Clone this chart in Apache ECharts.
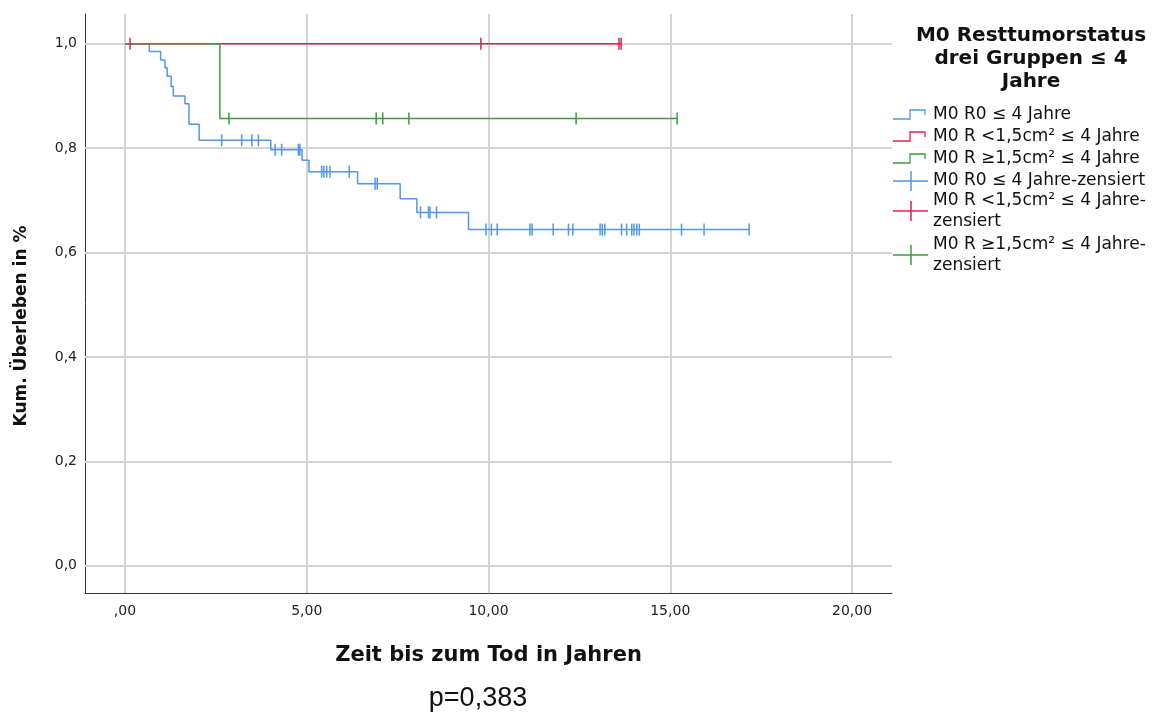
<!DOCTYPE html>
<html>
<head>
<meta charset="utf-8">
<script src="https://cdn.jsdelivr.net/npm/echarts@6/dist/echarts.min.js"></script>
<style>
  html, body { margin: 0; padding: 0; background: #fff; }
  #chart { width: 1175px; height: 713px; }
</style>
</head>
<body>
<div id="chart"></div>
<script>
// Kaplan-Meier estimates per group: event times and survival after each event
const r0Times = [0, 0.67, 0.98, 1.10, 1.16, 1.27, 1.33, 1.65, 1.76, 2.04, 4.01, 4.87, 5.06, 6.40, 7.57, 8.03, 9.45];
const r0Surv  = [1.0, 0.985, 0.969, 0.954, 0.938, 0.918, 0.900, 0.885, 0.846, 0.815, 0.797, 0.777, 0.755, 0.732, 0.703, 0.677, 0.644];
const r0Censored = [2.66, 3.21, 3.49, 3.67, 4.13, 4.31, 4.77, 4.81, 5.41, 5.47, 5.55, 5.64, 6.17, 6.88, 6.94,
                    8.13, 8.35, 8.39, 8.57, 9.93, 10.08, 10.24, 11.14, 11.20, 11.78, 12.20, 12.32, 13.07, 13.13,
                    13.20, 13.66, 13.80, 13.94, 14.00, 14.08, 14.15, 15.31, 15.93, 17.17];

const rSmallTimes = [0];
const rSmallSurv  = [1.0];
const rSmallCensored = [0.14, 9.79, 13.59, 13.65];

const rLargeTimes = [0, 2.61];
const rLargeSurv  = [1.0, 0.857];
const rLargeCensored = [2.86, 6.91, 7.09, 7.81, 12.41, 15.19];

const groupNames = ['M0 R0 \u2264 4 Jahre', 'M0 R <1,5cm\u00b2 \u2264 4 Jahre', 'M0 R \u22651,5cm\u00b2 \u2264 4 Jahre'];
const censorNames = ['M0 R0 \u2264 4 Jahre-zensiert', 'M0 R <1,5cm\u00b2 \u2264 4 Jahre-\nzensiert', 'M0 R \u22651,5cm\u00b2 \u2264 4 Jahre-\nzensiert'];
const legendTitle = 'M0 Resttumorstatus\ndrei Gruppen \u2264 4\nJahre';

const xTickValues = [0, 5, 10, 15, 20];
const xTickLabels = [',00', '5,00', '10,00', '15,00', '20,00'];
const yTickValues = [0, 0.2, 0.4, 0.6, 0.8, 1.0];
const yTickLabels = ['0,0', '0,2', '0,4', '0,6', '0,8', '1,0'];

const xAxisTitle = 'Zeit bis zum Tod in Jahren';
const yAxisTitle = 'Kum. \u00dcberleben in %';
const pValueText = 'p=0,383';

// ---- styling ----
const colors = ['#5297e8', '#e2214f', '#3e9a3e'];
const gridColor = '#d4d4d4';
const textFont = 'DejaVu Sans, Verdana, sans-serif';

// survival level in effect at time t (right-continuous step function)
function survivalAt(times, surv, t) {
  let s = surv[0];
  for (let i = 0; i < times.length; i++) {
    if (times[i] <= t) s = surv[i];
  }
  return s;
}

function curvePoints(times, surv, censored) {
  const pts = times.map((t, i) => [t, surv[i]]);
  const end = Math.max(times[times.length - 1], ...censored);
  pts.push([end, survivalAt(times, surv, end)]);
  return pts;
}

function censorPoints(times, surv, censored) {
  return censored.map(t => [t, survivalAt(times, surv, t)]);
}

const groups = [
  [r0Times, r0Surv, r0Censored],
  [rSmallTimes, rSmallSurv, rSmallCensored],
  [rLargeTimes, rLargeSurv, rLargeCensored]
];

const series = [];

// reference lines at each tick, drawn beneath the curves
series.push({
  type: 'line',
  data: [],
  silent: true,
  z: 1,
  markLine: {
    silent: true,
    z: 1,
    symbol: 'none',
    animation: false,
    label: { show: false },
    lineStyle: { color: gridColor, width: 2, type: 'solid' },
    data: xTickValues.map(v => ({ xAxis: v })).concat(yTickValues.map(v => ({ yAxis: v })))
  }
});

groups.forEach((g, i) => {
  series.push({
    name: groupNames[i],
    type: 'line',
    step: 'end',
    showSymbol: false,
    symbol: 'none',
    z: 10,
    lineStyle: { color: colors[i], width: 1.5 },
    itemStyle: { color: colors[i] },
    data: curvePoints(g[0], g[1], g[2])
  });
});

groups.forEach((g, i) => {
  series.push({
    name: censorNames[i],
    type: 'scatter',
    symbol: 'rect',
    symbolSize: [1.5, 12],
    z: 12,
    itemStyle: { color: colors[i], opacity: 1 },
    data: censorPoints(g[0], g[1], g[2])
  });
});

// legend drawn as graphic elements to the right of the plot
const legendX = 893;
const legendTextX = 933;
const rowCenters = [115, 137, 159, 181, 211, 255];
const graphics = [{
  type: 'text',
  x: 1031, y: 24,
  style: {
    text: legendTitle,
    font: 'bold 20px ' + textFont,
    fill: '#111',
    textAlign: 'center',
    lineHeight: 23
  }
}];

groupNames.forEach((name, i) => {
  const c = rowCenters[i];
  graphics.push({
    type: 'polyline',
    shape: { points: [[legendX, c + 4], [legendX + 17, c + 4], [legendX + 17, c - 5], [legendX + 32, c - 5], [legendX + 32, c]] },
    style: { stroke: colors[i], lineWidth: 1.3, fill: null }
  });
  graphics.push({
    type: 'text', x: legendTextX, y: c,
    style: { text: name, font: '17px ' + textFont, fill: '#111', textVerticalAlign: 'middle' }
  });
});

censorNames.forEach((name, i) => {
  const c = rowCenters[i + 3];
  graphics.push({
    type: 'polyline',
    shape: { points: [[legendX, c], [legendX + 35, c]] },
    style: { stroke: colors[i], lineWidth: 1.5, fill: null }
  });
  graphics.push({
    type: 'polyline',
    shape: { points: [[legendX + 18, c - 10], [legendX + 18, c + 10]] },
    style: { stroke: colors[i], lineWidth: 1.5, fill: null }
  });
  graphics.push({
    type: 'text', x: legendTextX, y: c,
    style: { text: name, font: '17px ' + textFont, fill: '#111', textVerticalAlign: 'middle', lineHeight: 21 }
  });
});

// rotated y-axis title, centred beside the plot
graphics.push({
  type: 'text',
  x: 22, y: 326,
  rotation: Math.PI / 2,
  style: {
    text: yAxisTitle,
    font: 'bold 17px ' + textFont,
    fill: '#111',
    textAlign: 'center',
    textVerticalAlign: 'middle'
  }
});

graphics.push({
  type: 'text',
  x: 478, y: 699,
  style: {
    text: pValueText,
    font: '27px "Liberation Sans", Arial, sans-serif',
    fill: '#111',
    textAlign: 'center',
    textVerticalAlign: 'middle'
  }
});

const chart = echarts.init(document.getElementById('chart'), null, { renderer: 'canvas' });
chart.setOption({
  animation: false,
  backgroundColor: '#fff',
  grid: { left: 85, right: 283, top: 14, bottom: 120 },
  xAxis: {
    type: 'value',
    min: -1.10,
    max: 21.10,
    name: xAxisTitle,
    nameLocation: 'middle',
    nameGap: 52,
    nameTextStyle: { fontFamily: textFont, fontWeight: 'bold', fontSize: 21, color: '#111' },
    axisLine: { show: true, onZero: false, lineStyle: { color: '#333', width: 1 } },
    axisTick: { show: false },
    splitLine: { show: false },
    axisLabel: {
      customValues: xTickValues,
      margin: 11,
      fontFamily: textFont,
      fontSize: 14,
      color: '#222',
      formatter: v => {
        const k = xTickValues.findIndex(t => Math.abs(t - v) < 1e-9);
        return k >= 0 ? xTickLabels[k] : '';
      }
    }
  },
  yAxis: {
    type: 'value',
    min: -0.052,
    max: 1.057,
    axisLine: { show: true, onZero: false, lineStyle: { color: '#333', width: 1 } },
    axisTick: { show: false },
    splitLine: { show: false },
    axisLabel: {
      customValues: yTickValues,
      margin: 8,
      fontFamily: textFont,
      fontSize: 14,
      color: '#222',
      formatter: v => {
        const k = yTickValues.findIndex(t => Math.abs(t - v) < 1e-9);
        return k >= 0 ? yTickLabels[k] : '';
      }
    }
  },
  series: series,
  graphic: graphics
});
</script>
</body>
</html>
